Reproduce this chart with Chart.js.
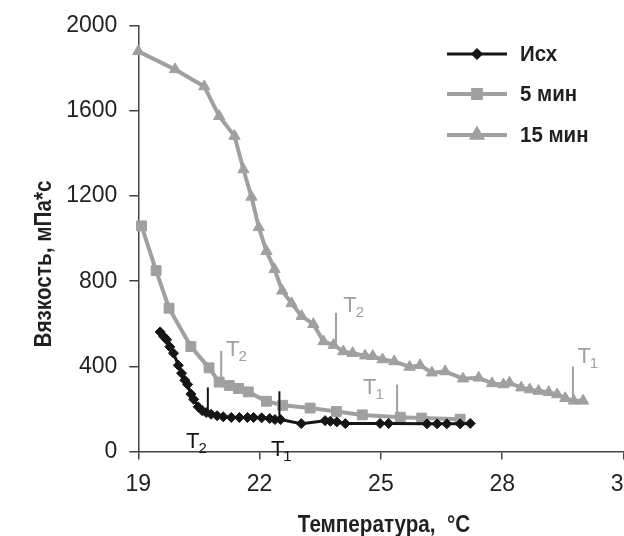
<!DOCTYPE html>
<html>
<head>
<meta charset="utf-8">
<script src="https://cdn.jsdelivr.net/npm/chart.js@4/dist/chart.umd.min.js"></script>
<style>
html, body { margin: 0; padding: 0; background: #fff; overflow: hidden; }
#wrap { width: 624px; height: 536px; overflow: hidden; position: relative; }
#wrap canvas { position: absolute; left: 0; top: 0; }
</style>
</head>
<body>
<div id="wrap"><canvas id="chart" width="660" height="536"></canvas></div>
<script>
// tick labels
const xTicks = [19, 22, 25, 28, 31];
const yTicks = [0, 400, 800, 1200, 1600, 2000];
const seriesNames = ['Исх', '5 мин', '15 мин'];

// Исх
const tempIsx = [19.54, 19.63, 19.70, 19.78, 19.87, 19.99, 20.07, 20.15, 20.22, 20.30, 20.37, 20.48, 20.58, 20.68, 20.80, 20.95,
  21.10, 21.30, 21.50, 21.70, 21.85, 22.05, 22.25, 22.38, 22.52, 23.03, 23.62, 23.75, 23.91, 24.12, 24.98, 25.19,
  26.14, 26.39, 26.63, 26.96, 27.21];
const viscIsx = [562, 540, 525, 492, 462, 405, 368, 335, 315, 270, 245, 210, 192, 183, 175, 168,
  163, 160, 160, 160, 160, 158, 155, 150, 150, 131, 145, 142, 139, 131, 132, 132,
  130, 130, 130, 130, 132];

// 5 мин
const temp5 = [19.08, 19.44, 19.76, 20.30, 20.75, 21.00, 21.25, 21.48, 21.72, 22.17, 22.57, 23.25, 23.90, 24.54, 25.48, 26.01, 26.96];
const visc5 = [1060, 850, 673, 493, 393, 326, 310, 296, 280, 236, 217, 204, 188, 172, 161, 157, 152];

// 15 мин
const temp15 = [19.00, 19.91, 20.63, 21.00, 21.38, 21.60, 21.80, 21.98, 22.17, 22.37, 22.56, 22.79, 23.04, 23.33, 23.58, 23.83,
  24.07, 24.30, 24.61, 24.80, 25.04, 25.33, 25.71, 25.97, 26.26, 26.59, 27.03, 27.42, 27.75, 28.03, 28.18, 28.47,
  28.68, 28.90, 29.15, 29.36, 29.56, 29.77, 30.00];
const visc15 = [1880, 1795, 1715, 1575, 1482, 1325, 1196, 1053, 941, 856, 755, 696, 636, 598, 517, 500,
  470, 462, 450, 448, 432, 423, 397, 405, 370, 376, 342, 346, 320, 315, 323, 300,
  291, 284, 278, 268, 250, 238, 238];

// T1 / T2 marks: series index, subscript, x, y from, y to, label x, label y
const markSeries = [0, 0, 1, 1, 2, 2];
const markSub = ['2', '1', '2', '1', '2', '1'];
const markX = [20.72, 22.49, 21.05, 25.40, 23.89, 29.75];
const markY0 = [185, 139, 343, 170, 512, 255];
const markY1 = [301, 283, 473, 315, 652, 399];
const labelX = [20.18, 22.28, 21.17, 24.56, 24.07, 29.86];
const labelY = [18, -19, 447, 270, 657, 414];

const black = '#151515';
const gray = '#a0a0a0';
const seriesColors = [black, gray, gray];
const seriesStyles = ['rectRot', 'rect', 'triangle'];
const axisColor = '#444';
const textColor = '#231f20';

function pts(xs, ys) {
  return xs.map(function (v, i) { return { x: v, y: ys[i] }; });
}

function drawTitle(ctx, text, x, y, rot, scaleX) {
  ctx.save();
  ctx.translate(x, y);
  ctx.rotate(rot);
  ctx.scale(scaleX, 1);
  ctx.fillText(text, 0, 0);
  ctx.restore();
}

const extras = {
  id: 'extras',
  afterDatasetsDraw(chart) {
    const ctx = chart.ctx;
    const xs = chart.scales.x, ys = chart.scales.y;
    ctx.save();

    // T marks
    for (let i = 0; i < markX.length; i++) {
      const color = seriesColors[markSeries[i]];
      const px = xs.getPixelForValue(markX[i]);
      ctx.strokeStyle = color;
      ctx.lineWidth = 2;
      ctx.beginPath();
      ctx.moveTo(px, ys.getPixelForValue(markY0[i]));
      ctx.lineTo(px, ys.getPixelForValue(markY1[i]));
      ctx.stroke();

      const lx = xs.getPixelForValue(labelX[i]);
      const ly = ys.getPixelForValue(labelY[i]);
      ctx.fillStyle = color;
      ctx.textAlign = 'left';
      ctx.textBaseline = 'alphabetic';
      ctx.font = '22px "Liberation Sans", Arial, sans-serif';
      ctx.fillText('T', lx, ly);
      const w = ctx.measureText('T').width;
      ctx.font = '15px "Liberation Sans", Arial, sans-serif';
      ctx.fillText(markSub[i], lx + w - 1, ly + 5);
    }

    // axis titles
    ctx.fillStyle = textColor;
    ctx.textAlign = 'center';
    ctx.textBaseline = 'alphabetic';
    ctx.font = 'bold 24px "Liberation Sans", Arial, sans-serif';
    drawTitle(ctx, 'Температура,  °C', 384, 532, 0, 0.86);
    ctx.font = 'bold 23px "Liberation Sans", Arial, sans-serif';
    drawTitle(ctx, 'Вязкость, мПа*с', 51, 264, -Math.PI / 2, 0.9);

    // legend
    const legY = [54, 94, 135];
    for (let i = 0; i < seriesNames.length; i++) {
      const c = seriesColors[i];
      ctx.strokeStyle = c;
      ctx.lineWidth = i === 0 ? 3 : 4;
      ctx.beginPath();
      ctx.moveTo(447, legY[i]);
      ctx.lineTo(507, legY[i]);
      ctx.stroke();
      Chart.helpers.drawPoint(ctx, {
        pointStyle: seriesStyles[i],
        radius: i === 0 ? 4 : 5.5,
        borderWidth: 1,
        rotation: 0
      }, 477, legY[i]);
      ctx.fillStyle = c;
      ctx.fill();

      ctx.fillStyle = textColor;
      ctx.textAlign = 'left';
      ctx.textBaseline = 'middle';
      ctx.font = 'bold 22px "Liberation Sans", Arial, sans-serif';
      drawTitle(ctx, seriesNames[i], 520, legY[i] + 1, 0, 0.93);
    }
    ctx.restore();
  }
};

function dataset(i, xs, ys, width, radius) {
  return {
    label: seriesNames[i],
    data: pts(xs, ys),
    showLine: true,
    borderColor: seriesColors[i],
    backgroundColor: seriesColors[i],
    borderWidth: width,
    pointStyle: seriesStyles[i],
    pointRadius: radius,
    pointBorderWidth: 1,
    pointBackgroundColor: seriesColors[i],
    pointBorderColor: seriesColors[i],
    clip: false
  };
}

const tickFont = { family: '"Liberation Sans", Arial, sans-serif', size: 23 };

new Chart(document.getElementById('chart'), {
  type: 'scatter',
  data: {
    datasets: [
      dataset(0, tempIsx, viscIsx, 3, 5),
      dataset(1, temp5, visc5, 4, 7),
      dataset(2, temp15, visc15, 4, 6.5)
    ]
  },
  options: {
    responsive: false,
    animation: false,
    layout: { padding: { top: 22, right: 36.5, left: 0, bottom: 0 } },
    plugins: { legend: { display: false }, tooltip: { enabled: false } },
    scales: {
      x: {
        type: 'linear',
        min: 19,
        max: 31,
        afterBuildTicks: function (s) { s.ticks = xTicks.map(function (v) { return { value: v }; }); },
        afterFit: function (s) { s.height = 84.5; },
        grid: { drawOnChartArea: false, tickLength: 8, color: axisColor, lineWidth: 1.5 },
        border: { color: axisColor, width: 1.5 },
        ticks: { font: tickFont, color: textColor, padding: 11, maxRotation: 0,
          callback: function (v) { return String(v); } }
      },
      y: {
        min: 0,
        max: 2000,
        afterBuildTicks: function (s) { s.ticks = yTicks.map(function (v) { return { value: v }; }); },
        afterFit: function (s) { s.width = 138.3; },
        grid: { drawOnChartArea: false, tickLength: 9, color: axisColor, lineWidth: 1.5 },
        border: { color: axisColor, width: 1.5 },
        ticks: { font: tickFont, color: textColor, padding: 12,
          callback: function (v) { return String(v); } }
      }
    }
  },
  plugins: [extras]
});
</script>
</body>
</html>
